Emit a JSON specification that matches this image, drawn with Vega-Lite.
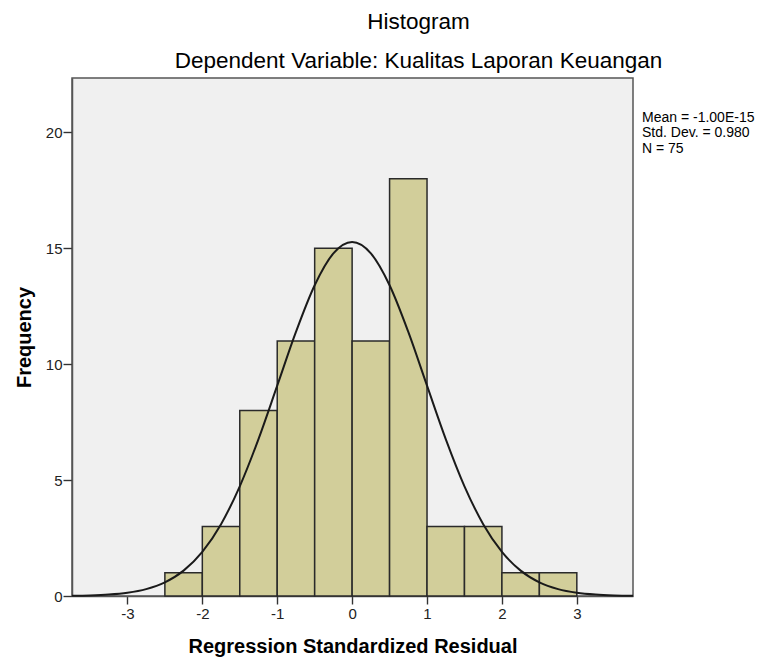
{
  "$schema": "https://vega.github.io/schema/vega-lite/v6.json",
  "autosize": {"type": "none"},
  "width": 561,
  "height": 518,
  "padding": {"left": 72, "top": 78, "right": 128, "bottom": 68},
  "background": "white",
  "config": {
    "font": "Liberation Sans",
    "view": {"fill": "#F0F0F0", "stroke": "#555555", "strokeWidth": 1.5},
    "axis": {"grid": false}
  },
  "title": {
    "text": "Histogram",
    "subtitle": "Dependent Variable: Kualitas Laporan Keuangan",
    "anchor": "middle",
    "dx": 66,
    "offset": 6,
    "font": "Liberation Sans",
    "fontSize": 22.5,
    "fontWeight": "normal",
    "color": "#000000",
    "subtitleFont": "Liberation Sans",
    "subtitleFontSize": 22.5,
    "subtitleColor": "#000000",
    "subtitlePadding": 16
  },
  "datasets": {
    "bins": [
      {"bin_start": -2.5, "bin_end": -2.0, "count": 1},
      {"bin_start": -2.0, "bin_end": -1.5, "count": 3},
      {"bin_start": -1.5, "bin_end": -1.0, "count": 8},
      {"bin_start": -1.0, "bin_end": -0.5, "count": 11},
      {"bin_start": -0.5, "bin_end": 0.0, "count": 15},
      {"bin_start": 0.0, "bin_end": 0.5, "count": 11},
      {"bin_start": 0.5, "bin_end": 1.0, "count": 18},
      {"bin_start": 1.0, "bin_end": 1.5, "count": 3},
      {"bin_start": 1.5, "bin_end": 2.0, "count": 3},
      {"bin_start": 2.0, "bin_end": 2.5, "count": 1},
      {"bin_start": 2.5, "bin_end": 3.0, "count": 1}
    ],
    "curve": [
      {"x": -3.74, "y": 0.011},
      {"x": -3.5, "y": 0.026},
      {"x": -3.25, "y": 0.0625},
      {"x": -3.0, "y": 0.141},
      {"x": -2.75, "y": 0.298},
      {"x": -2.5, "y": 0.59},
      {"x": -2.25, "y": 1.094},
      {"x": -2.0, "y": 1.903},
      {"x": -1.75, "y": 3.099},
      {"x": -1.5, "y": 4.732},
      {"x": -1.25, "y": 6.768},
      {"x": -1.0, "y": 9.071},
      {"x": -0.75, "y": 11.39},
      {"x": -0.5, "y": 13.403},
      {"x": -0.25, "y": 14.777},
      {"x": 0.0, "y": 15.266},
      {"x": 0.25, "y": 14.777},
      {"x": 0.5, "y": 13.403},
      {"x": 0.75, "y": 11.39},
      {"x": 1.0, "y": 9.071},
      {"x": 1.25, "y": 6.768},
      {"x": 1.5, "y": 4.732},
      {"x": 1.75, "y": 3.099},
      {"x": 2.0, "y": 1.903},
      {"x": 2.25, "y": 1.094},
      {"x": 2.5, "y": 0.59},
      {"x": 2.75, "y": 0.298},
      {"x": 3.0, "y": 0.141},
      {"x": 3.25, "y": 0.0625},
      {"x": 3.5, "y": 0.026},
      {"x": 3.75, "y": 0.0101}
    ]
  },
  "layer": [
    {
      "data": {"name": "bins"},
      "mark": {"type": "bar", "fill": "#D2CE9A", "stroke": "#2a2a2a", "strokeWidth": 1.5},
      "encoding": {
        "x": {
          "field": "bin_start",
          "type": "quantitative",
          "scale": {"domain": [-3.74, 3.75], "nice": false, "zero": false},
          "axis": {
            "values": [-3, -2, -1, 0, 1, 2, 3],
            "labelExpr": "'' + datum.value",
            "title": "Regression Standardized Residual",
            "titleFontSize": 20,
            "titleFontWeight": "bold",
            "titleColor": "#000000",
            "titlePadding": 15,
            "labelFontSize": 15,
            "labelColor": "#222222",
            "labelPadding": 2,
            "tickSize": 8,
            "tickColor": "#333333",
            "tickWidth": 1.4,
            "domainColor": "#555555",
            "domainWidth": 1.5
          }
        },
        "x2": {"field": "bin_end"},
        "y": {
          "field": "count",
          "type": "quantitative",
          "scale": {"domain": [0, 22.34], "nice": false},
          "axis": {
            "values": [0, 5, 10, 15, 20],
            "title": "Frequency",
            "titleFontSize": 20,
            "titleFontWeight": "bold",
            "titleColor": "#000000",
            "titlePadding": 11,
            "labelFontSize": 15,
            "labelColor": "#222222",
            "labelPadding": 1,
            "tickSize": 9,
            "tickColor": "#333333",
            "tickWidth": 1.4,
            "domainColor": "#555555",
            "domainWidth": 1.5
          }
        },
        "y2": {"datum": 0}
      }
    },
    {
      "data": {"name": "curve"},
      "mark": {"type": "line", "color": "#1a1a1a", "strokeWidth": 2, "interpolate": "monotone"},
      "encoding": {
        "x": {"field": "x", "type": "quantitative"},
        "y": {"field": "y", "type": "quantitative"}
      }
    },
    {
      "data": {"values": [{"label": "stats"}]},
      "mark": {"type": "text", "align": "left", "baseline": "top", "dx": 9, "fontSize": 14, "lineHeight": 15.5, "color": "#000000", "font": "Liberation Sans"},
      "encoding": {
        "x": {"datum": 3.75},
        "y": {"datum": 20.93},
        "text": {"value": ["Mean = -1.00E-15", "Std. Dev. = 0.980", "N = 75"]}
      }
    }
  ]
}
